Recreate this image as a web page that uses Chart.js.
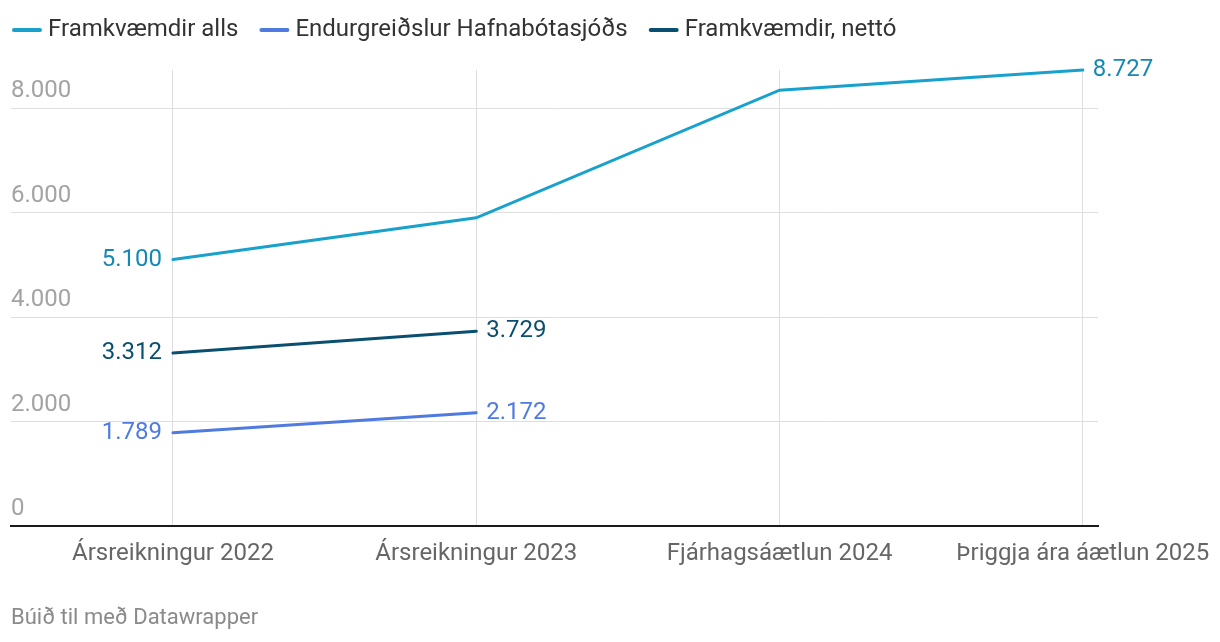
<!DOCTYPE html>
<html>
<head>
<meta charset="utf-8">
<script src="https://cdn.jsdelivr.net/npm/chart.js@4.4.1/dist/chart.umd.min.js"></script>
<style>
  html, body { margin: 0; padding: 0; background: #fff; }
  #wrap { width: 1220px; height: 642px; position: relative; }
</style>
</head>
<body>
<div id="wrap"><canvas id="chart"></canvas></div>
<script>
const categories = ['Ársreikningur 2022', 'Ársreikningur 2023', 'Fjárhagsáætlun 2024', 'Þriggja ára áætlun 2025'];
const framkvaemdirAlls = [5100, 5900, 8341, 8727];
const endurgreidslur = [1789, 2172];
const framkvaemdirNetto = [3312, 3729];
const yTicks = [0, 2000, 4000, 6000, 8000];
const seriesNames = ['Framkvæmdir alls', 'Endurgreiðslur Hafnabótasjóðs', 'Framkvæmdir, nettó'];
const lineColors = ['#18a1cd', '#4f7be0', '#0a4f70'];
const labelColors = ['#1589b3', '#4f7be0', '#0a4f70'];
const footerText = 'Búið til með Datawrapper';

Chart.defaults.font.family = 'Roboto';
Chart.defaults.font.size = 24;

const fmt = (n) => String(n).replace(/\B(?=(\d{3})+(?!\d))/g, '.');
const toPoints = (arr) => arr.map((v, i) => ({ x: i, y: v }));

// legend, footer and end labels drawn by hand, datawrapper style
const extras = {
  id: 'extras',
  afterDatasetsDraw(chart) {
    const ctx = chart.ctx;
    ctx.save();
    ctx.font = '24px Roboto';
    ctx.textBaseline = 'middle';
    chart.data.datasets.forEach((ds, i) => {
      const pts = chart.getDatasetMeta(i).data;
      const first = pts[0], last = pts[pts.length - 1];
      ctx.fillStyle = labelColors[i];
      ctx.textAlign = 'right';
      ctx.fillText(fmt(ds.data[0].y), first.x - 11, first.y);
      ctx.textAlign = 'left';
      ctx.fillText(fmt(ds.data[ds.data.length - 1].y), last.x + 10, last.y);
    });
    ctx.restore();
  },
  afterDraw(chart) {
    const ctx = chart.ctx;
    ctx.save();
    ctx.font = '24px Roboto';
    ctx.textBaseline = 'middle';
    ctx.textAlign = 'left';
    let x = 12;
    const y = 30;
    seriesNames.forEach((name, i) => {
      ctx.strokeStyle = lineColors[i];
      ctx.lineWidth = 4;
      ctx.lineCap = 'round';
      ctx.beginPath();
      ctx.moveTo(x + 2, y);
      ctx.lineTo(x + 28, y);
      ctx.stroke();
      ctx.fillStyle = '#333333';
      ctx.fillText(name, x + 36, y);
      x += 36 + ctx.measureText(name).width + 21;
    });
    ctx.font = '22px Roboto';
    ctx.fillStyle = '#8a8a8a';
    ctx.fillText(footerText, 11, 618);
    ctx.restore();
  }
};

new Chart(document.getElementById('chart'), {
  type: 'line',
  data: {
    datasets: [
      { label: seriesNames[0], data: toPoints(framkvaemdirAlls), borderColor: lineColors[0] },
      { label: seriesNames[1], data: toPoints(endurgreidslur), borderColor: lineColors[1] },
      { label: seriesNames[2], data: toPoints(framkvaemdirNetto), borderColor: lineColors[2] }
    ]
  },
  options: {
    responsive: true,
    maintainAspectRatio: false,
    animation: false,
    layout: { padding: { top: 70, left: 11, right: 122, bottom: 61 } },
    elements: {
      line: { borderWidth: 3, tension: 0, borderCapStyle: 'round', fill: false },
      point: { radius: 0, hoverRadius: 0 }
    },
    datasets: { line: { clip: false } },
    plugins: { legend: { display: false }, tooltip: { enabled: false } },
    scales: {
      x: {
        type: 'linear',
        min: -0.534,
        max: 3.05,
        afterBuildTicks: (scale) => { scale.ticks = categories.map((c, i) => ({ value: i })); },
        // last label may hang past the plot, the page has room for it
        afterFit: (scale) => { scale.paddingLeft = 0; scale.paddingRight = 0; },
        grid: { color: '#dedede', lineWidth: 1, drawTicks: false },
        border: { display: true, color: '#1a1a1a', width: 2 },
        ticks: {
          autoSkip: false,
          maxRotation: 0,
          padding: 13,
          color: '#666666',
          callback: (v) => categories[v]
        }
      },
      y: {
        min: 0,
        max: Math.max(...framkvaemdirAlls),
        afterBuildTicks: (scale) => { scale.ticks = yTicks.map((v) => ({ value: v })); },
        grid: { color: '#dedede', lineWidth: 1, drawTicks: false },
        border: { display: false },
        ticks: {
          mirror: true,
          padding: 0,
          labelOffset: -17,
          color: '#a3a3a3',
          callback: (v) => fmt(v)
        }
      }
    }
  },
  plugins: [extras]
});
</script>
</body>
</html>
